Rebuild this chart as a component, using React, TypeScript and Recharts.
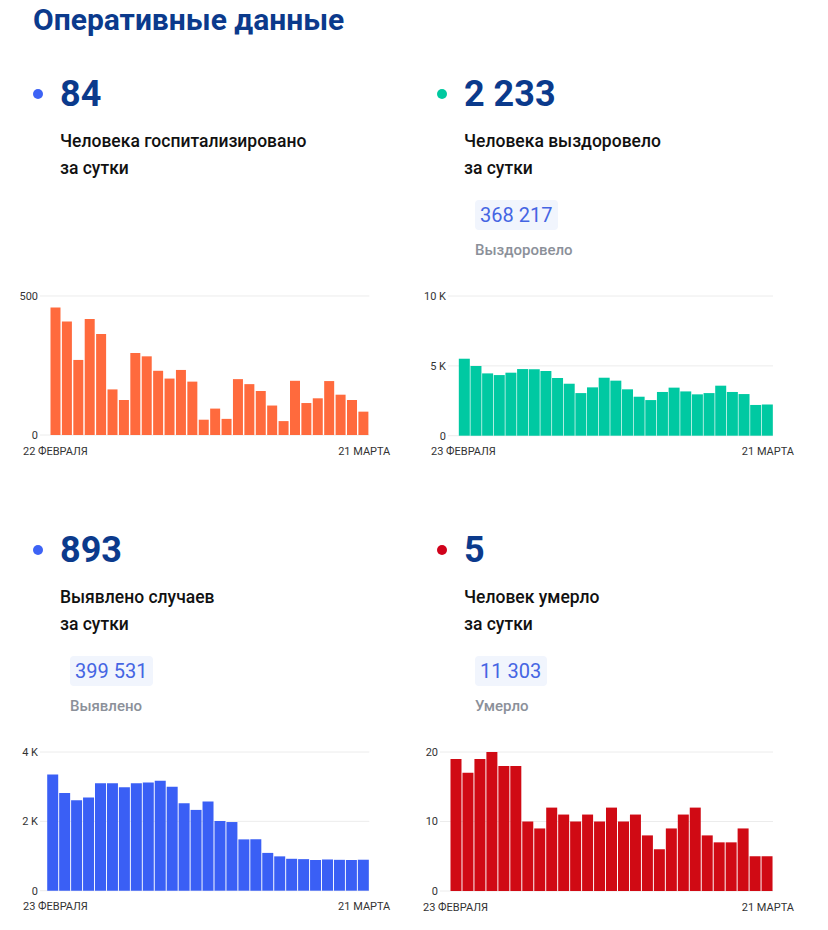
import { BarChart, Bar, XAxis, YAxis, CartesianGrid } from 'recharts';

// categories
const hospDates = [
  '22.02', '23.02', '24.02', '25.02', '26.02', '27.02', '28.02',
  '01.03', '02.03', '03.03', '04.03', '05.03', '06.03', '07.03', '08.03', '09.03', '10.03',
  '11.03', '12.03', '13.03', '14.03', '15.03', '16.03', '17.03', '18.03', '19.03', '20.03', '21.03',
];
const caseDates = [
  '23.02', '24.02', '25.02', '26.02', '27.02', '28.02',
  '01.03', '02.03', '03.03', '04.03', '05.03', '06.03', '07.03', '08.03', '09.03', '10.03',
  '11.03', '12.03', '13.03', '14.03', '15.03', '16.03', '17.03', '18.03', '19.03', '20.03', '21.03',
];

// series
const hospitalized = [459, 408, 270, 417, 363, 164, 126, 295, 283, 231, 203, 234, 192, 55, 95, 58, 201, 183, 158, 106, 50, 195, 115, 132, 194, 145, 126, 84];
const recovered = [5510, 4990, 4460, 4340, 4510, 4770, 4750, 4630, 4130, 3720, 3050, 3460, 4150, 3940, 3320, 2790, 2550, 3130, 3440, 3170, 2960, 3050, 3580, 3130, 2980, 2200, 2233];
const detected = [3350, 2820, 2610, 2690, 3100, 3100, 2980, 3100, 3120, 3170, 3000, 2520, 2330, 2570, 2010, 1980, 1480, 1480, 1090, 990, 920, 910, 885, 900, 890, 885, 893];
const deaths = [19, 17, 19, 20, 18, 18, 10, 9, 12, 11, 10, 11, 10, 12, 10, 11, 8, 6, 9, 11, 12, 8, 7, 7, 9, 5, 5];

// tick labels
const hospXLabels = ['22 ФЕВРАЛЯ', '21 МАРТА'];
const caseXLabels = ['23 ФЕВРАЛЯ', '21 МАРТА'];
const hospYTicks = [0, 500];
const recYTicks = [0, 5000, 10000];
const detYTicks = [0, 2000, 4000];
const deathYTicks = [0, 10, 20];

const NAVY = '#0b3a8c';
const FONT = 'Roboto, "Noto Sans", sans-serif';
const Y_W = 40;

const kFormat = (v: number) => (v === 0 ? '0' : `${v / 1000} K`);

// first date sits under the y labels, last one runs past the plot edge
function DateTick(props: any) {
  const { y, index, labels, chartW } = props;
  const first = index === 0;
  return (
    <text
      x={first ? Y_W - 17 : chartW - 9}
      y={y + 12}
      dy="0.71em"
      textAnchor={first ? 'start' : 'end'}
      fontSize={11}
      fill="#333"
      fontFamily={FONT}
    >
      {labels[index]}
    </text>
  );
}

type ChartProps = {
  dates: string[];
  values: number[];
  color: string;
  yTicks: number[];
  xLabels: string[];
  fmt?: (v: number) => string;
  plotLeft: number;
  barStart: number;
  barEnd: number;
  top: number;
  bottom: number;
};

function MiniBars({ dates, values, color, yTicks, xLabels, fmt, plotLeft, barStart, barEnd, top, bottom }: ChartProps) {
  const data = dates.map((d, i) => ({ date: d, value: values[i] }));
  const left = plotLeft - Y_W;
  const w = barEnd + 30 - left;
  const h = bottom + 30 - (top - 10);
  return (
    <div style={{ position: 'absolute', left, top: top - 10 }}>
      <BarChart
        width={w}
        height={h}
        data={data}
        margin={{ top: 10, right: 30, bottom: 0, left: 0 }}
        barCategoryGap={0.5}
      >
        <CartesianGrid vertical={false} stroke="#ececec" />
        <XAxis
          dataKey="date"
          ticks={[dates[0], dates[dates.length - 1]]}
          interval={0}
          height={30}
          tickLine={false}
          axisLine={false}
          tickSize={0}
          tickMargin={0}
          padding={{ left: barStart - plotLeft, right: 0 }}
          tick={(p: any) => <DateTick {...p} labels={xLabels} chartW={w} />}
        />
        <YAxis
          width={Y_W}
          domain={[0, yTicks[yTicks.length - 1]]}
          ticks={yTicks}
          interval={0}
          tickLine={false}
          axisLine={false}
          tickSize={0}
          tickMargin={2}
          tickFormatter={fmt}
          tick={{ fontSize: 11, fill: '#333', fontFamily: FONT }}
        />
        <Bar dataKey="value" fill={color} isAnimationActive={false} />
      </BarChart>
    </div>
  );
}

type BlockProps = {
  x: number;
  dy: number;
  dot: string;
  value: string;
  lines: string[];
  total?: string;
  totalLabel?: string;
  badgeX?: number;
};

function StatBlock({ x, dy, dot, value, lines, total, totalLabel, badgeX }: BlockProps) {
  return (
    <>
      <div
        style={{
          position: 'absolute', left: x - 27, top: dy + 88.5, width: 10, height: 10,
          borderRadius: 5, background: dot,
        }}
      />
      <div
        style={{
          position: 'absolute', left: x, top: dy + 75.7, fontSize: 36, lineHeight: '36px',
          fontWeight: 700, color: NAVY, whiteSpace: 'nowrap',
        }}
      >
        {value}
      </div>
      <div
        style={{
          position: 'absolute', left: x, top: dy + 127.6, fontSize: 17.5, lineHeight: '27px',
          fontWeight: 500, color: '#111', whiteSpace: 'nowrap',
        }}
      >
        {lines[0]}
        <br />
        {lines[1]}
      </div>
      {total && (
        <div
          style={{
            position: 'absolute', left: badgeX, top: dy + 200, height: 30, lineHeight: '30px',
            padding: '0 6px 0 5px', fontSize: 20, color: '#4565e3', background: '#f1f5fd',
            borderRadius: 4, whiteSpace: 'nowrap',
          }}
        >
          {total}
        </div>
      )}
      {totalLabel && (
        <div
          style={{
            position: 'absolute', left: badgeX, top: dy + 243.4, fontSize: 15, lineHeight: '15px',
            fontWeight: 500, color: '#8b9099', whiteSpace: 'nowrap',
          }}
        >
          {totalLabel}
        </div>
      )}
    </>
  );
}

export default function App() {
  const row2 = 456;
  return (
    <div
      style={{
        position: 'absolute', left: 0, top: 0, width: 828, height: 930,
        background: '#fff', fontFamily: FONT, overflow: 'hidden',
      }}
    >
      <div
        style={{
          position: 'absolute', left: 33, top: 5.4, fontSize: 30, lineHeight: '30px',
          fontWeight: 700, color: NAVY, whiteSpace: 'nowrap',
        }}
      >
        Оперативные данные
      </div>

      <StatBlock x={60} dy={0} dot="#3d63f5" value="84" lines={['Человека госпитализировано', 'за сутки']} />
      <StatBlock
        x={464} dy={0} dot="#00c9a0" value="2 233"
        lines={['Человека выздоровело', 'за сутки']}
        total="368 217" totalLabel="Выздоровело" badgeX={475}
      />
      <StatBlock
        x={60} dy={row2} dot="#3d63f5" value="893"
        lines={['Выявлено случаев', 'за сутки']}
        total="399 531" totalLabel="Выявлено" badgeX={70}
      />
      <StatBlock
        x={464} dy={row2} dot="#d0021b" value="5"
        lines={['Человек умерло', 'за сутки']}
        total="11 303" totalLabel="Умерло" badgeX={475}
      />

      <MiniBars
        dates={hospDates} values={hospitalized} color="#ff6a3d" yTicks={hospYTicks} xLabels={hospXLabels}
        plotLeft={40} barStart={50} barEnd={369.3} top={296} bottom={435}
      />
      <MiniBars
        dates={caseDates} values={recovered} color="#00c9a2" yTicks={recYTicks} xLabels={caseXLabels} fmt={kFormat}
        plotLeft={448} barStart={458.3} barEnd={773} top={296} bottom={435.7}
      />
      <MiniBars
        dates={caseDates} values={detected} color="#3a5ff5" yTicks={detYTicks} xLabels={caseXLabels} fmt={kFormat}
        plotLeft={40} barStart={46.7} barEnd={369.3} top={752.3} bottom={891}
      />
      <MiniBars
        dates={caseDates} values={deaths} color="#d00a14" yTicks={deathYTicks} xLabels={caseXLabels}
        plotLeft={440} barStart={450} barEnd={773} top={752.3} bottom={891.3}
      />
    </div>
  );
}
